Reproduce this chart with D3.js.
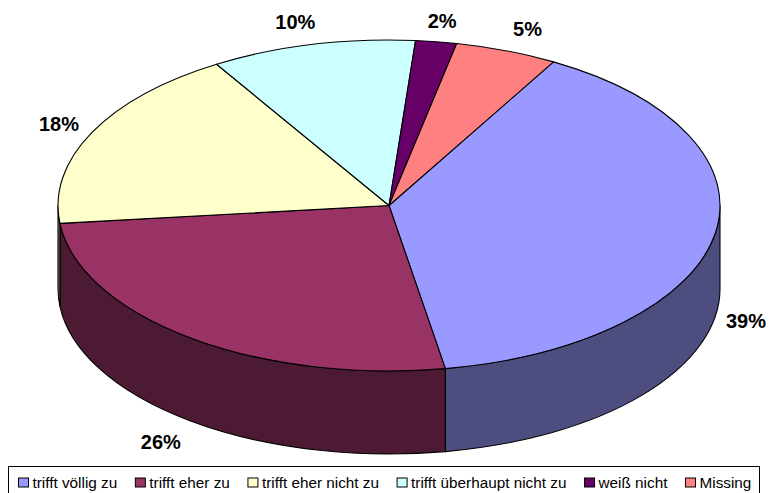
<!DOCTYPE html>
<html>
<head>
<meta charset="utf-8">
<script src="https://cdnjs.cloudflare.com/ajax/libs/d3/7.8.5/d3.min.js"></script>
<style>
html,body{margin:0;padding:0;background:#fff;overflow:hidden}
text{font-family:"Liberation Sans",Arial,sans-serif;fill:#000}
</style>
</head>
<body>
<svg id="chart" width="779" height="493"></svg>
<script>
const categories = ["trifft völlig zu","trifft eher zu","trifft eher nicht zu","trifft überhaupt nicht zu","weiß nicht","Missing"];
const values = [39,26,18,10,2,5];
const labels = ["39%","26%","18%","10%","2%","5%"];
const topColors = ["#9999FF","#993366","#FFFFCC","#CCFFFF","#660066","#FF8080"];
const sideColors = ["#4D4D80","#4D1A33","#808066","#668080","#330033","#804040"];
const labelOffsets = [[31,4],[-29,21],[-33,-9],[-17,-23],[6,-21],[21,-22]];

const svg = d3.select("#chart");
const rad = d => d*Math.PI/180;
const start = rad(29.8);
const depth = 83;
const x = d3.scaleLinear().domain([-1,1]).range([58,720]);
const y = d3.scaleLinear().domain([-1,1]).range([371,40]);
const rx = (x(1)-x(-1))/2, ry = (y(-1)-y(1))/2;
const px = a => x(Math.sin(a)), py = a => y(Math.cos(a));

const pie = d3.pie().sort(null).startAngle(start).endAngle(start+2*Math.PI);
const arcs = pie(values);

// Side walls: the part of each slice facing the viewer (between 90° and 270°).
const lo = Math.PI/2, hi = 3*Math.PI/2;
const sides = svg.append("g");
arcs.forEach((d,i)=>{
  const a0 = Math.max(d.startAngle,lo), a1 = Math.min(d.endAngle,hi);
  if (a1 <= a0) return;
  const large = (a1-a0) > Math.PI ? 1 : 0;
  sides.append("path")
    .attr("d",`M${px(a0)},${py(a0)}A${rx},${ry} 0 ${large} 1 ${px(a1)},${py(a1)}`+
              `L${px(a1)},${py(a1)+depth}A${rx},${ry} 0 ${large} 0 ${px(a0)},${py(a0)+depth}Z`)
    .attr("fill",sideColors[i]).attr("stroke","#000").attr("stroke-width",1.1);
});

// Top faces
svg.append("g").selectAll("path").data(arcs).join("path")
  .attr("d",d=>{
    const large = (d.endAngle-d.startAngle) > Math.PI ? 1 : 0;
    return `M${x(0)},${y(0)}L${px(d.startAngle)},${py(d.startAngle)}`+
           `A${rx},${ry} 0 ${large} 1 ${px(d.endAngle)},${py(d.endAngle)}Z`;
  })
  .attr("fill",(d,i)=>topColors[i]).attr("stroke","#000").attr("stroke-width",1.1)
  .attr("stroke-linejoin","round");

// Data labels (the rightmost one is cut by the chart area's edge)
svg.append("clipPath").attr("id","area").append("rect")
  .attr("x",0).attr("y",0).attr("width",766).attr("height",493);
svg.append("g").attr("clip-path","url(#area)").selectAll("text").data(arcs).join("text")
  .attr("x",(d,i)=>px((d.startAngle+d.endAngle)/2)+labelOffsets[i][0])
  .attr("y",(d,i)=>{
    const m=(d.startAngle+d.endAngle)/2;
    return py(m)+(Math.cos(m)<0?depth:0)+labelOffsets[i][1];
  })
  .attr("dy","0.36em").attr("text-anchor","middle")
  .attr("font-size",20).attr("font-weight","bold")
  .text((d,i)=>labels[i]);

// Legend: frame runs off the bottom of the picture
svg.append("path").attr("d","M8.5,493V466.5H759.5V493")
  .attr("fill","none").attr("stroke","#000").attr("stroke-width",1);
let lx = 18.5;
const legend = svg.append("g");
categories.forEach((c,i)=>{
  legend.append("rect").attr("x",lx).attr("y",478).attr("width",10).attr("height",9)
    .attr("fill",topColors[i]).attr("stroke","#000").attr("stroke-width",1);
  const t = legend.append("text").attr("x",lx+14).attr("y",488).attr("font-size",15.3).text(c);
  lx += 14 + t.node().getComputedTextLength() + 18.1;
});
</script>
</body>
</html>
